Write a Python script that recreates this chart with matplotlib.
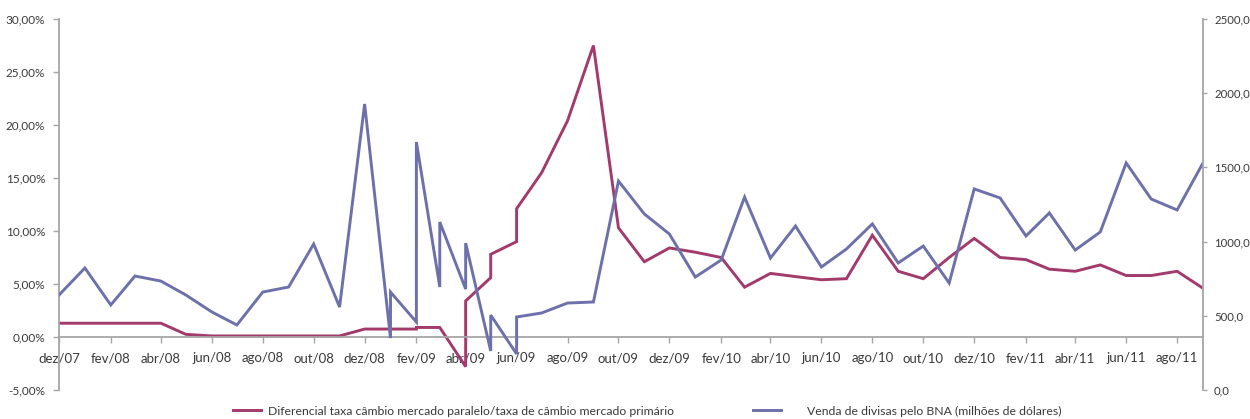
import numpy as np
import matplotlib
matplotlib.use('Agg')
import matplotlib.pyplot as plt
from matplotlib.ticker import FuncFormatter

plt.rcParams['font.family'] = ['Lato', 'DejaVu Sans']

RED = '#a23a6c'
BLUE = '#6d70ab'
AXIS_GRAY = '#a6a6a6'
TEXT = '#3a3a3a'

# monthly observations; some months in 2009 carry two readings
dates = ['2007-12-01', '2008-01-01', '2008-02-01', '2008-03-01', '2008-04-01',
         '2008-05-01', '2008-06-01', '2008-07-01', '2008-08-01', '2008-09-01',
         '2008-10-01', '2008-11-01', '2008-12-01',
         '2009-01-01', '2009-01-01', '2009-02-01', '2009-02-01',
         '2009-03-01', '2009-03-01', '2009-04-01', '2009-04-01',
         '2009-05-01', '2009-05-01', '2009-06-01', '2009-06-01',
         '2009-07-01', '2009-08-01', '2009-09-01', '2009-10-01', '2009-11-01',
         '2009-12-01', '2010-01-01', '2010-02-01', '2010-03-01', '2010-04-01',
         '2010-05-01', '2010-06-01', '2010-07-01', '2010-08-01', '2010-09-01',
         '2010-10-01', '2010-11-01', '2010-12-01', '2011-01-01', '2011-02-01',
         '2011-03-01', '2011-04-01', '2011-05-01', '2011-06-01', '2011-07-01',
         '2011-08-01', '2011-09-01']

diferencial = [1.3, 1.3, 1.3, 1.3, 1.3,
               0.25, 0.1, 0.1, 0.1, 0.1,
               0.1, 0.1, 0.75,
               0.75, 0.75, 0.75, 0.9,
               0.9, 0.9, -2.8, 3.4,
               5.6, 7.8, 9.0, 12.1,
               15.5, 20.4, 27.5, 10.3, 7.1,
               8.4, 8.0, 7.5, 4.7, 6.0,
               5.7, 5.4, 5.5, 9.6, 6.2,
               5.5, 7.5, 9.3, 7.5, 7.3,
               6.4, 6.2, 6.8, 5.8, 5.8,
               6.2, 4.6]

venda_divisas = [640, 822, 573, 768, 734,
                 640, 526, 438, 660, 694,
                 984, 559, 1927,
                 350, 660, 458, 1671,
                 694, 1132, 680, 990,
                 263, 505, 243, 492,
                 519, 586, 593, 1408, 1186,
                 1051, 761, 876, 1300, 889,
                 1105, 829, 950, 1119, 856,
                 970, 721, 1355, 1294, 1038,
                 1193, 943, 1065, 1530, 1287,
                 1213, 1530]

tick_dates = ['2007-12-01', '2008-02-01', '2008-04-01', '2008-06-01', '2008-08-01',
              '2008-10-01', '2008-12-01', '2009-02-01', '2009-04-01', '2009-06-01',
              '2009-08-01', '2009-10-01', '2009-12-01', '2010-02-01', '2010-04-01',
              '2010-06-01', '2010-08-01', '2010-10-01', '2010-12-01', '2011-02-01',
              '2011-04-01', '2011-06-01', '2011-08-01']
tick_labels = ['dez/07', 'fev/08', 'abr/08', 'jun/08', 'ago/08', 'out/08',
               'dez/08', 'fev/09', 'abr/09', 'jun/09', 'ago/09', 'out/09',
               'dez/09', 'fev/10', 'abr/10', 'jun/10', 'ago/10', 'out/10',
               'dez/10', 'fev/11', 'abr/11', 'jun/11', 'ago/11']

label_red = 'Diferencial taxa câmbio mercado paralelo/taxa de câmbio mercado primário'
label_blue = 'Venda de divisas pelo BNA (milhões de dólares)'

x = np.array(dates, dtype='datetime64[D]')
xt = np.array(tick_dates, dtype='datetime64[D]')

fig = plt.figure(figsize=(12.5, 4.19), dpi=100)
ax = fig.add_axes([59 / 1250, 1 - 390 / 419, (1203 - 59) / 1250, (390 - 19) / 419])
ax2 = ax.twinx()

line_red, = ax.plot(x, diferencial, color=RED, lw=2.1, solid_joinstyle='miter')
line_blue, = ax2.plot(x, venda_divisas, color=BLUE, lw=2.1, solid_joinstyle='miter')

ax.set_xlim(np.datetime64('2007-12-01'), np.datetime64('2011-09-01'))
ax.set_ylim(-5, 30)
ax.set_yticks(np.arange(-5, 31, 5))
ax.yaxis.set_major_formatter(FuncFormatter(lambda v, p: f'{v:.2f}%'.replace('.', ',')))
ax2.set_ylim(0, 2500)
ax2.set_yticks(np.arange(0, 2501, 500))
ax2.yaxis.set_major_formatter(FuncFormatter(lambda v, p: f'{v:.1f}'.replace('.', ',')))

ax.set_xticks(xt)
ax.set_xticklabels(tick_labels)

for a in (ax, ax2):
    a.spines['top'].set_visible(False)
    a.patch.set_visible(False)
ax.spines['right'].set_visible(False)
ax.spines['bottom'].set_position(('data', 0))
ax.spines['bottom'].set_color(AXIS_GRAY)
ax.spines['left'].set_color(AXIS_GRAY)
ax2.spines['left'].set_visible(False)
ax2.spines['bottom'].set_visible(False)
ax2.spines['right'].set_color(AXIS_GRAY)
for a in (ax, ax2):
    for s in a.spines.values():
        s.set_linewidth(1.3)

ax.tick_params(axis='x', direction='out', length=4, width=1, color=AXIS_GRAY,
               labelsize=9.5, labelcolor=TEXT, pad=7)
ax.tick_params(axis='y', direction='out', length=4, width=1, color=AXIS_GRAY,
               labelsize=8.5, labelcolor=TEXT, pad=6)
ax2.tick_params(axis='y', direction='out', length=3, width=1, color=AXIS_GRAY,
                labelsize=8.2, labelcolor=TEXT, pad=5)

leg_kw = dict(loc='center left', frameon=False, fontsize=8.8, borderpad=0,
              borderaxespad=0, handlelength=2.3, labelcolor=TEXT)
fig.legend([line_red], [label_red], bbox_to_anchor=(233 / 1250, 1 - 411 / 419),
           handletextpad=0.55, **leg_kw)
fig.legend([line_blue], [label_blue], bbox_to_anchor=(753 / 1250, 1 - 411 / 419),
           handletextpad=2.1, **leg_kw)

fig.savefig('out.png', dpi=100)
